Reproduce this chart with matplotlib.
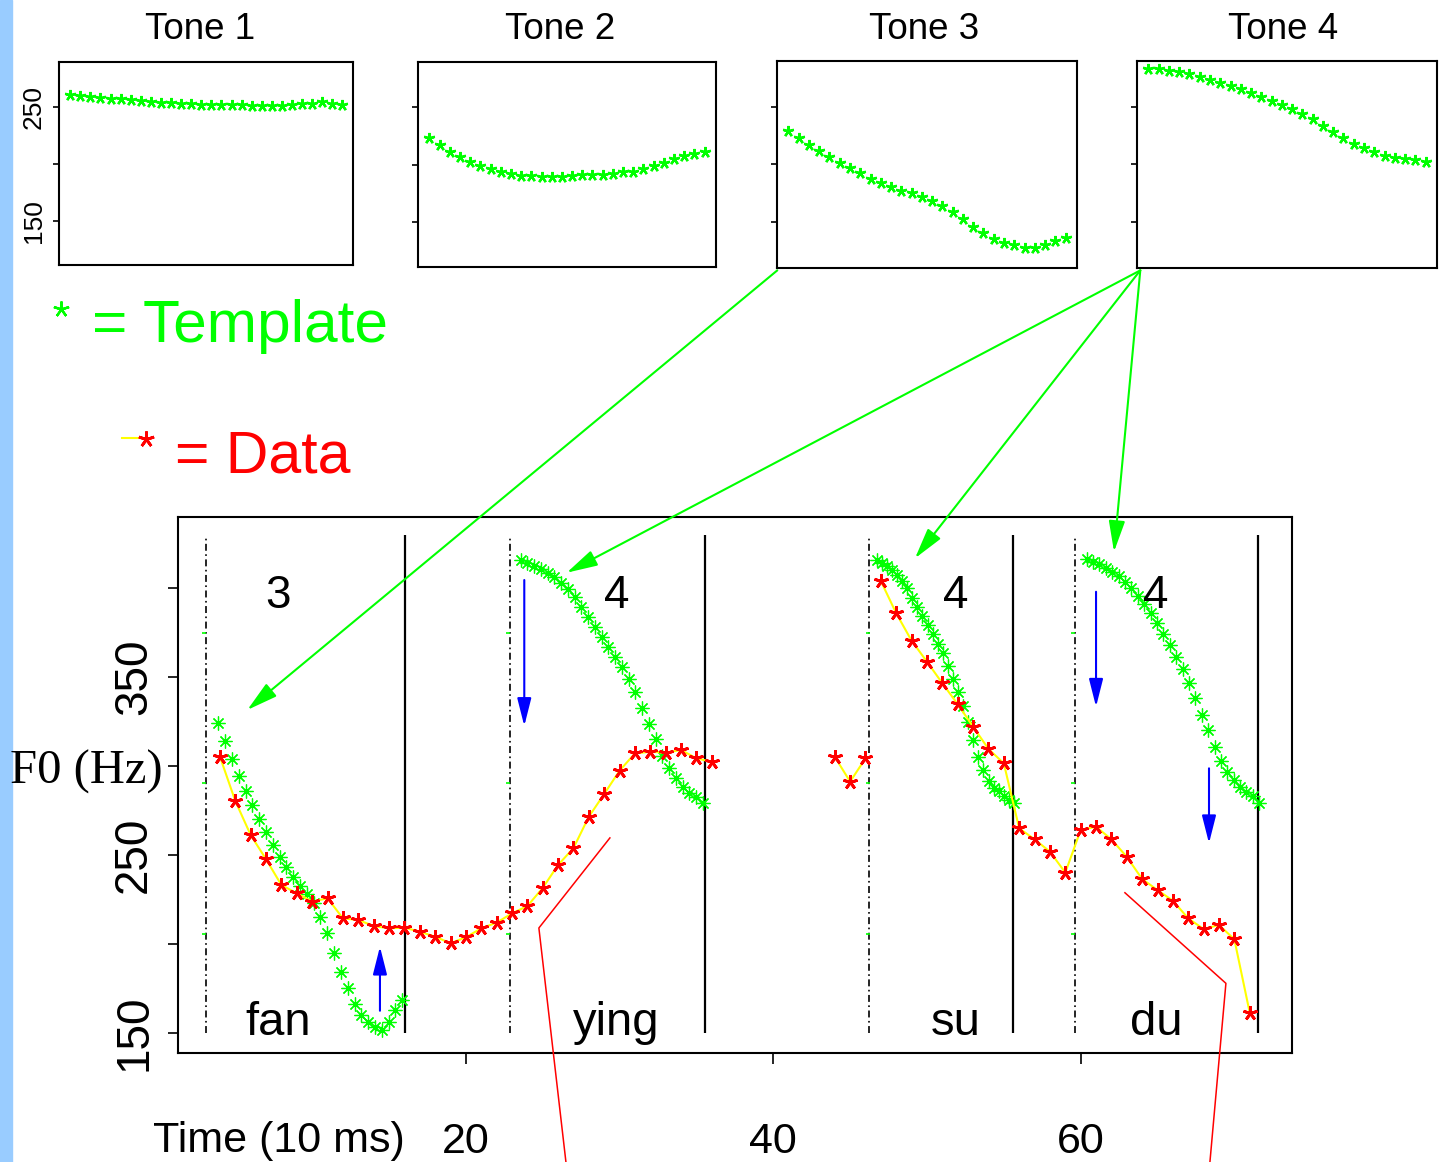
import numpy as np
import matplotlib
matplotlib.use("Agg")
import matplotlib.pyplot as plt
from matplotlib.patches import ConnectionPatch, Rectangle, ArrowStyle
from matplotlib.lines import Line2D

plt.rcParams['font.family'] = ['Liberation Sans', 'DejaVu Sans']
plt.rcParams['lines.scale_dashes'] = False

W, H = 1449, 1162

# ---------------- data ----------------
tone_titles = ['Tone 1', 'Tone 2', 'Tone 3', 'Tone 4']
template_idx = list(range(1, 29))
tone1 = [260.8, 260.2, 259.4, 258.5, 257.6, 257.0, 256.4, 255.8, 254.7, 254.1, 253.5, 252.9, 252.6, 252.3,
         252.3, 252.0, 252.0, 251.7, 251.4, 251.1, 250.9, 251.1, 252.3, 252.9, 252.9, 255.0, 252.9, 251.7]
tone2 = [223.2, 216.9, 211.1, 206.8, 202.2, 198.7, 196.1, 193.8, 191.8, 190.3, 189.8, 188.9, 188.9, 189.4,
         190.1, 190.7, 191.2, 190.9, 192.1, 193.3, 193.8, 195.8, 198.7, 201.0, 204.8, 207.4, 208.8, 210.6]
tone3 = [229.3, 223.2, 216.9, 211.7, 206.2, 201.6, 196.7, 192.4, 187.7, 184.3, 180.5, 177.3, 175.1, 172.1,
         168.2, 164.4, 158.9, 152.9, 146.2, 140.5, 135.3, 132.4, 130.1, 128.0, 127.5, 130.4, 133.8, 136.7]
tone4 = [282.9, 282.3, 280.6, 279.7, 278.0, 275.7, 272.8, 270.8, 267.9, 265.0, 261.6, 258.7, 255.2, 251.8,
         247.7, 243.4, 239.1, 233.6, 228.1, 223.2, 218.0, 214.0, 211.1, 207.6, 205.9, 205.0, 203.6, 202.2]
tones = [tone1, tone2, tone3, tone4]

tmpl_fan = [324.3, 314.2, 303.8, 294.6, 286.0, 278.1, 270.1, 262.8, 255.6, 249.0, 243.4, 237.5, 232.6, 228.1,
            223.2, 215.3, 206.3, 195.1, 184.4, 175.1, 166.3, 160.1, 156.3, 153.5, 151.7, 156.3, 162.9, 168.5]
tmpl_ying = [415.7, 414.2, 412.5, 410.7, 408.6, 406.0, 403.0, 399.3, 394.8, 389.5, 383.9, 377.9, 372.3, 367.0,
             361.4, 355.4, 348.7, 341.4, 332.4, 323.6, 315.0, 305.6, 298.7, 293.1, 288.4, 285.0, 282.4, 279.4]
tmpl_su = [415.7, 414.2, 412.3, 410.1, 407.3, 404.1, 399.8, 394.2, 389.2, 384.3, 379.3, 374.0, 368.6, 363.4,
           356.3, 348.8, 341.3, 333.8, 325.0, 314.7, 305.0, 297.9, 291.3, 287.6, 285.7, 283.3, 281.1, 279.2]
tmpl_du = [416.1, 414.8, 413.3, 411.4, 409.2, 406.7, 403.6, 399.8, 395.5, 391.0, 385.8, 380.1, 374.2, 368.0,
           361.4, 354.3, 346.4, 338.0, 328.7, 320.2, 310.9, 303.0, 296.8, 292.1, 288.4, 285.6, 283.1, 279.4]
main_templates = [tmpl_fan, tmpl_ying, tmpl_su, tmpl_du]
template_spans = [(3.89, 15.86), (23.57, 35.41), (46.73, 55.66), (60.39, 71.62)]

nan = np.nan
data_t = list(range(4, 72))
data_f0 = [305.2, 280.3, 261.2, 247.6, 233.1, 228.5, 223.8, 225.7, 214.4, 213.5, 210.1, 208.8, 209.2,
           206.9, 204.1, 200.4, 203.8, 208.8, 212.0, 217.2, 221.3, 231.5, 244.4, 253.9, 271.5, 284.3,
           297.4, 307.1, 308.0, 307.5, 309.0, 304.3, 302.4,
           nan, nan, nan, nan, nan, nan, nan,
           305.2, 291.2, 304.3,
           403.9, 385.8, 370.4, 358.6, 346.5, 334.7, 322.1, 309.6, 301.5, 265.0, 258.8, 251.9, 240.1,
           264.0, 265.9, 258.8, 249.0, 236.5, 230.3, 224.3, 214.4, 208.4, 210.7, 202.6, 161.4]
data_line_groups = [(4, 36), (44, 46), (47, 71)]

syllables = ['fan', 'ying', 'su', 'du']
syllable_tones = ['3', '4', '4', '4']
syllable_x = [7.8, 29.8, 51.9, 64.9]
syllable_start = [3.09, 22.87, 46.25, 59.63]
syllable_end = [16.04, 35.54, 55.58, 71.56]
guide_levels = [205.6, 290.3, 374.6]

shift_x = [14.41, 23.8, 61.0, 68.35]
shift_from = [162.5, 404.5, 397.9, 298.7]
shift_to = [198.5, 322.5, 333.3, 256.6]

pointer1_x = [29.37, 24.75, 26.51]
pointer1_y = [259.6, 209.0, 77.5]
pointer2_x = [62.88, 69.45, 68.41]
pointer2_y = [228.8, 177.9, 77.5]

link_targets = [(2, 5.78, 331.5), (3, 26.56, 408.6), (3, 49.22, 416.7), (3, 62.17, 420.4)]

xticks = [20, 40, 60]
yticks = [150, 200, 250, 300, 350, 400]
ytick_labels = ['150', '', '250', '', '350', '']
panel_yticks = [150, 200, 250]
panel_ytick_labels = ['150', '', '250']

GREEN = '#00ff00'
RED = '#ff0000'
YELLOW = '#ffff00'
BLUE = '#0000ff'

# ---------------- figure ----------------
fig = plt.figure(figsize=(W / 100, H / 100), dpi=100)
fig.patch.set_facecolor('white')
fig.add_artist(Rectangle((0, 0), 12 / W, 1, transform=fig.transFigure, color='#99ccff', zorder=0))


def box(x0, y0, x1, y1):
    return [x0 / W, 1 - y1 / H, (x1 - x0) / W, (y1 - y0) / H]


panel_boxes = [(59.3, 61.7, 353.3, 265), (418.3, 62, 715.7, 266.7),
               (777.3, 61, 1076.7, 268.3), (1137.3, 61, 1436.7, 268.3)]
panel_ylims = [(111.3, 290.1), (111.6, 288.7), (110.2, 289.5), (110.2, 289.5)]
title_x = [200, 560, 924, 1283]

panels = []
for i, (vals, bx, yl) in enumerate(zip(tones, panel_boxes, panel_ylims)):
    a = fig.add_axes(box(*bx))
    a.plot(template_idx, vals, ls='none', marker=(5, 2, 0), ms=8, mew=1.7, color=GREEN)
    a.set_xlim(1 - 1.08, 28 + 1.08)
    a.set_ylim(*yl)
    a.set_xticks([])
    a.set_yticks(panel_yticks)
    a.set_yticklabels(panel_ytick_labels if i == 0 else [''] * 3, rotation=90, va='center', fontsize=19)
    a.tick_params(axis='y', direction='out', length=4.5, width=1.2, pad=5)
    for s in a.spines.values():
        s.set_linewidth(1.5)
    fig.text(title_x[i] / W, 1 - 39 / H, tone_titles[i], ha='center', va='baseline', fontsize=26.5)
    panels.append(a)

ax = fig.add_axes(box(178, 517, 1292, 1053))
ax.set_xlim(1.27, 73.75)
ax.set_ylim(138.76, 439.9)
for s in ax.spines.values():
    s.set_linewidth(1.5)

ax.vlines(syllable_start, 150, 428, colors='k', lw=1.2, linestyles=[(0, (5, 2.5, 1.2, 2.5))])
ax.vlines(syllable_end, 150, 430, colors='k', lw=1.6)
for xs in syllable_start:
    ax.plot([xs - 0.1] * len(guide_levels), guide_levels, ls='none', marker='_', ms=3, mew=1.2, color=GREEN)

for vals, (a0, a1) in zip(main_templates, template_spans):
    ax.plot(np.linspace(a0, a1, len(vals)), vals, ls='none', marker=(8, 2, 0), ms=10, mew=0.9,
            color=GREEN, zorder=3)

t = np.array(data_t, dtype=float)
f = np.array(data_f0, dtype=float)
for g0, g1 in data_line_groups:
    m = (t >= g0) & (t <= g1)
    ax.plot(t[m], f[m], color=YELLOW, lw=1.5, zorder=4)
ax.plot(t, f, ls='none', marker=(5, 2, 0), ms=10.5, mew=2, color=RED, zorder=5)

for x, y0, y1 in zip(shift_x, shift_from, shift_to):
    ax.annotate('', xy=(x, y1), xytext=(x, y0),
                arrowprops=dict(arrowstyle=ArrowStyle('-|>', head_length=1.7, head_width=0.43),
                                mutation_scale=10, color=BLUE, lw=1.5, shrinkA=0, shrinkB=0))

for x, tone, syl in zip(syllable_x, syllable_tones, syllables):
    ax.text(x, 388.6, tone, ha='center', va='baseline', fontsize=33)
    ax.text(x, 148.9, syl, ha='center', va='baseline', fontsize=34)

ax.set_xticks(xticks)
ax.set_xticklabels([str(v) for v in xticks], fontsize=31)
ax.tick_params(axis='x', direction='out', length=8, width=1.2, pad=42)
ax.set_yticks(yticks)
ax.set_yticklabels(ytick_labels, rotation=90, va='center', fontsize=33)
ax.tick_params(axis='y', direction='out', length=7.2, width=1.2, pad=8.6)

ax.plot(pointer1_x, pointer1_y, color=RED, lw=1.1, clip_on=False, zorder=6)
ax.plot(pointer2_x, pointer2_y, color=RED, lw=1.1, clip_on=False, zorder=6)

for pi, tx, ty in link_targets:
    start = (0.0, -0.01) if pi == 2 else (0.01, -0.01)
    con = ConnectionPatch(xyA=start, coordsA=panels[pi].transAxes, xyB=(tx, ty), coordsB=ax.transData,
                          arrowstyle=ArrowStyle('-|>', head_length=1.9, head_width=0.5),
                          mutation_scale=10, color=GREEN, lw=1.5, shrinkA=0, shrinkB=0, zorder=7)
    fig.add_artist(con)

fig.text(163 / W, 1 - 784 / H, 'F0 (Hz)', family=['Liberation Serif', 'DejaVu Serif'], fontsize=35,
         ha='right', va='baseline')
fig.text(152.8 / W, 1 - 1152 / H, 'Time (10 ms)', fontsize=31, ha='left', va='baseline')

# legend
fig.add_artist(Line2D([61 / W], [1 - 308.7 / H], marker=(5, 2, 0), ms=11.5, mew=1.7, color=GREEN,
                      ls='none', transform=fig.transFigure))
fig.text(92 / W, 1 - 341.7 / H, '= Template', color=GREEN, fontsize=43.5, ha='left', va='baseline')
fig.add_artist(Line2D([122 / W, 143 / W], [1 - 438.3 / H] * 2, color=YELLOW, lw=1.5,
                      transform=fig.transFigure))
fig.add_artist(Line2D([146 / W], [1 - 438.5 / H], marker=(5, 2, 0), ms=11.5, mew=2, color=RED,
                      ls='none', transform=fig.transFigure))
fig.text(175 / W, 1 - 472.7 / H, '= Data', color=RED, fontsize=42.5, ha='left', va='baseline')

fig.savefig('out.png', dpi=100)
